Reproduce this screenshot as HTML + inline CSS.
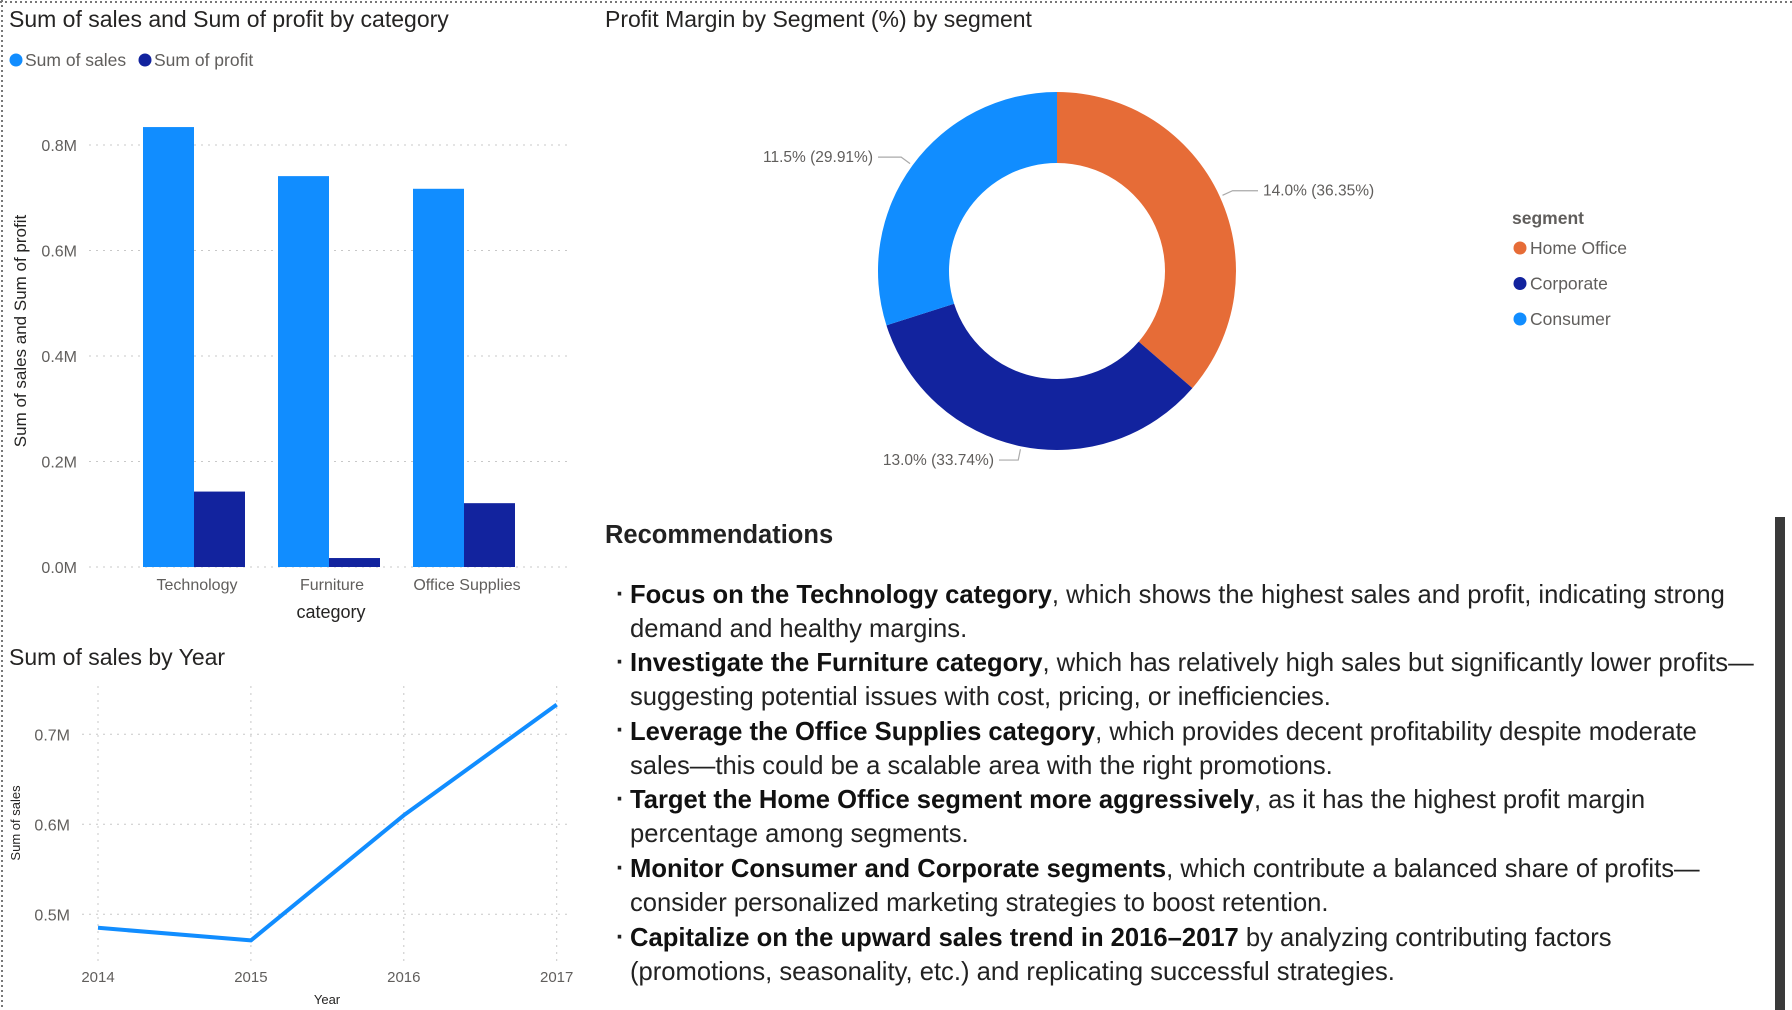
<!DOCTYPE html>
<html><head><meta charset="utf-8">
<style>
html,body{margin:0;padding:0;background:#fff;}
body{width:1792px;height:1010px;position:relative;overflow:hidden;font-family:"Liberation Sans",sans-serif;}
svg{position:absolute;left:0;top:0;}
.rec{position:absolute;left:630px;font-size:25.6px;color:#222;white-space:nowrap;line-height:34px;}
.rec b{color:#111;}
.dot{position:absolute;left:616px;font-size:25px;color:#222;font-weight:bold;}
</style></head>
<body>
<svg id="chart" width="1792" height="1010">
  <line x1="0" y1="2" x2="1792" y2="2" stroke="#777" stroke-width="2" stroke-dasharray="2,3"/>
  <line x1="2" y1="0" x2="2" y2="1010" stroke="#777" stroke-width="2" stroke-dasharray="2,3"/>
  <g id="bar"></g>
  <g id="line"></g>
  <g id="donut"></g>
  <rect x="1775" y="517" width="10" height="493" fill="#3a3a3a"/>
</svg>

<div class="rec" style="left:605px;top:518px;font-size:25.5px;font-weight:bold;color:#222">Recommendations</div>
<div>
<div class="dot" style="top:580px">·</div>
<div class="rec" style="top:578px"><b>Focus on the Technology category</b>, which shows the highest sales and profit, indicating strong</div>
<div class="rec" style="top:612px">demand and healthy margins.</div>
<div class="dot" style="top:648px">·</div>
<div class="rec" style="top:646px"><b>Investigate the Furniture category</b>, which has relatively high sales but significantly lower profits—</div>
<div class="rec" style="top:680px">suggesting potential issues with cost, pricing, or inefficiencies.</div>
<div class="dot" style="top:716px">·</div>
<div class="rec" style="top:715px"><b>Leverage the Office Supplies category</b>, which provides decent profitability despite moderate</div>
<div class="rec" style="top:749px">sales—this could be a scalable area with the right promotions.</div>
<div class="dot" style="top:785px">·</div>
<div class="rec" style="top:783px"><b>Target the Home Office segment more aggressively</b>, as it has the highest profit margin</div>
<div class="rec" style="top:817px">percentage among segments.</div>
<div class="dot" style="top:854px">·</div>
<div class="rec" style="top:852px"><b>Monitor Consumer and Corporate segments</b>, which contribute a balanced share of profits—</div>
<div class="rec" style="top:886px">consider personalized marketing strategies to boost retention.</div>
<div class="dot" style="top:923px">·</div>
<div class="rec" style="top:921px"><b>Capitalize on the upward sales trend in 2016–2017</b> by analyzing contributing factors</div>
<div class="rec" style="top:955px">(promotions, seasonality, etc.) and replicating successful strategies.</div>
</div>

<script>
const categories = ["Technology", "Furniture", "Office Supplies"];
const salesValues = [0.834, 0.741, 0.717];
const profitValues = [0.143, 0.017, 0.121];
const barTicks = [0, 0.2, 0.4, 0.6, 0.8];
const barTickLabels = ["0.0M", "0.2M", "0.4M", "0.6M", "0.8M"];

const years = ["2014", "2015", "2016", "2017"];
const yearSales = [0.485, 0.471, 0.610, 0.733];
const lineTicks = [0.5, 0.6, 0.7];
const lineTickLabels = ["0.5M", "0.6M", "0.7M"];

const segments = ["Home Office", "Corporate", "Consumer"];
const segmentShares = [36.35, 33.74, 29.91];
const segmentMargins = ["14.0%", "13.0%", "11.5%"];

const NS = "http://www.w3.org/2000/svg";
function mk(parent, tag, attrs, text) {
  const e = document.createElementNS(NS, tag);
  for (const k in attrs) e.setAttribute(k, attrs[k]);
  if (text !== undefined) e.textContent = text;
  parent.appendChild(e);
  return e;
}
const BLUE = "#118DFF", NAVY = "#12239E", ORANGE = "#E66C37";

// ---------- Bar chart ----------
const bar = document.getElementById("bar");
let t;
t = mk(bar, "text", {x: 9, y: 27, "font-size": 23, fill: "#252423"}, "Sum of sales and Sum of profit by category");


let c = mk(bar, "circle", {cx: 16, cy: 60, r: 6.5, fill: BLUE});


t = mk(bar, "text", {x: 25, y: 66, "font-size": 17.5, fill: "#605e5c"}, "Sum of sales");


c = mk(bar, "circle", {cx: 145, cy: 60, r: 6.5, fill: NAVY});


t = mk(bar, "text", {x: 154, y: 66, "font-size": 17.5, fill: "#605e5c"}, "Sum of profit");



const bY0 = 567, bY1 = 145, bV1 = 0.8;
const by = v => bY0 - (v / bV1) * (bY0 - bY1);
const bxCenter = i => 194 + i * 135;
const bw = 51;
barTicks.forEach((v, i) => {
  const g = mk(bar, "line", {x1: 89, x2: 571, y1: by(v), y2: by(v), stroke: "#c8c8c8", "stroke-dasharray": "2,5"});
  
  
  const l = mk(bar, "text", {x: 77, y: by(v) + 6, "font-size": 16, fill: "#605e5c", "text-anchor": "end"}, barTickLabels[i]);
  
  
});
categories.forEach((cat, i) => {
  const cx = bxCenter(i);
  const r1 = mk(bar, "rect", {x: cx - bw, y: by(salesValues[i]), width: bw, height: bY0 - by(salesValues[i]), fill: BLUE});
  
  
  const r2 = mk(bar, "rect", {x: cx, y: by(profitValues[i]), width: bw, height: bY0 - by(profitValues[i]), fill: NAVY});
  
  
  const l = mk(bar, "text", {x: cx + 3, y: 590, "font-size": 16, fill: "#605e5c", "text-anchor": "middle"}, cat);
  
  
});
t = mk(bar, "text", {x: 331, y: 618, "font-size": 18, fill: "#252423", "text-anchor": "middle"}, "category");


t = mk(bar, "text", {x: 0, y: 0, "font-size": 17, fill: "#252423", "text-anchor": "middle", transform: "translate(26,331) rotate(-90)"}, "Sum of sales and Sum of profit");



// ---------- Line chart ----------
const line = document.getElementById("line");
t = mk(line, "text", {x: 9, y: 665, "font-size": 23, fill: "#252423"}, "Sum of sales by Year");


const lY0 = 914.3, lV0 = 0.5, lpx = 900;
const ly = v => lY0 - (v - lV0) * lpx;
const lx = i => 98 + i * 152.9;
years.forEach((y, i) => {
  const g = mk(line, "line", {x1: lx(i), x2: lx(i), y1: 686, y2: 965, stroke: "#c8c8c8", "stroke-dasharray": "2,5"});
  
  
  const l = mk(line, "text", {x: lx(i), y: 982, "font-size": 15, fill: "#605e5c", "text-anchor": "middle"}, y);
  
  
});
lineTicks.forEach((v, i) => {
  const g = mk(line, "line", {x1: 82, x2: 571, y1: ly(v), y2: ly(v), stroke: "#c8c8c8", "stroke-dasharray": "2,5"});
  
  
  const l = mk(line, "text", {x: 70, y: ly(v) + 6, "font-size": 16, fill: "#605e5c", "text-anchor": "end"}, lineTickLabels[i]);
  
  
});
const pts = yearSales.map((v, i) => lx(i) + "," + ly(v)).join(" ");
const pl = mk(line, "polyline", {points: pts, fill: "none", stroke: BLUE, "stroke-width": 4, "stroke-linejoin": "round"});


t = mk(line, "text", {x: 327, y: 1004, "font-size": 13, fill: "#252423", "text-anchor": "middle"}, "Year");


t = mk(line, "text", {x: 0, y: 0, "font-size": 13, fill: "#252423", "text-anchor": "middle", transform: "translate(20,823) rotate(-90)"}, "Sum of sales");



// ---------- Donut ----------
const dn = document.getElementById("donut");
t = mk(dn, "text", {x: 605, y: 27, "font-size": 23, fill: "#252423"}, "Profit Margin by Segment (%) by segment");


const CX = 1057, CY = 271, RO = 179, RI = 108;
const colors = [ORANGE, NAVY, BLUE];
const total = segmentShares.reduce((a, b) => a + b, 0);
const pt = (a, r) => [CX + r * Math.sin(a), CY - r * Math.cos(a)];
let ang = 0;
const labelPos = [
  {tx: 1263, anchor: "start"},
  {tx: 994, anchor: "end"},
  {tx: 873, anchor: "end"}
];
segments.forEach((s, i) => {
  const a0 = ang, a1 = ang + segmentShares[i] / total * 2 * Math.PI;
  ang = a1;
  const large = (a1 - a0) > Math.PI ? 1 : 0;
  const [x0, y0] = pt(a0, RO), [x1, y1] = pt(a1, RO), [x2, y2] = pt(a1, RI), [x3, y3] = pt(a0, RI);
  const p = mk(dn, "path", {d: `M${x0},${y0} A${RO},${RO} 0 ${large} 1 ${x1},${y1} L${x2},${y2} A${RI},${RI} 0 ${large} 0 ${x3},${y3} Z`, fill: colors[i]});
  
  
  const mid = (a0 + a1) / 2;
  const [ex, ey] = pt(mid, RO + 3);
  const [kx, ky] = pt(mid, RO + 14);
  const lp = labelPos[i];
  const hx = lp.anchor === "start" ? lp.tx - 5 : lp.tx + 5;
  const ld = mk(dn, "polyline", {points: `${ex},${ey} ${kx},${ky} ${hx},${ky}`, fill: "none", stroke: "#aaa", "stroke-width": 1.2});
  
  
  const lt = mk(dn, "text", {x: lp.tx, y: ky + 5, "font-size": 15.5, fill: "#605e5c", "text-anchor": lp.anchor}, segmentMargins[i] + " (" + segmentShares[i].toFixed(2) + "%)");
  
  
  const lc = mk(dn, "circle", {cx: 1520, cy: 248 + i * 35.5, r: 6.5, fill: colors[i]});
  
  
  const ltx = mk(dn, "text", {x: 1530, y: 254 + i * 35.5, "font-size": 17.5, fill: "#605e5c"}, s);
  
  
});
t = mk(dn, "text", {x: 1512, y: 224, "font-size": 17.5, "font-weight": "bold", fill: "#605e5c"}, "segment");


</script>
</body></html>
